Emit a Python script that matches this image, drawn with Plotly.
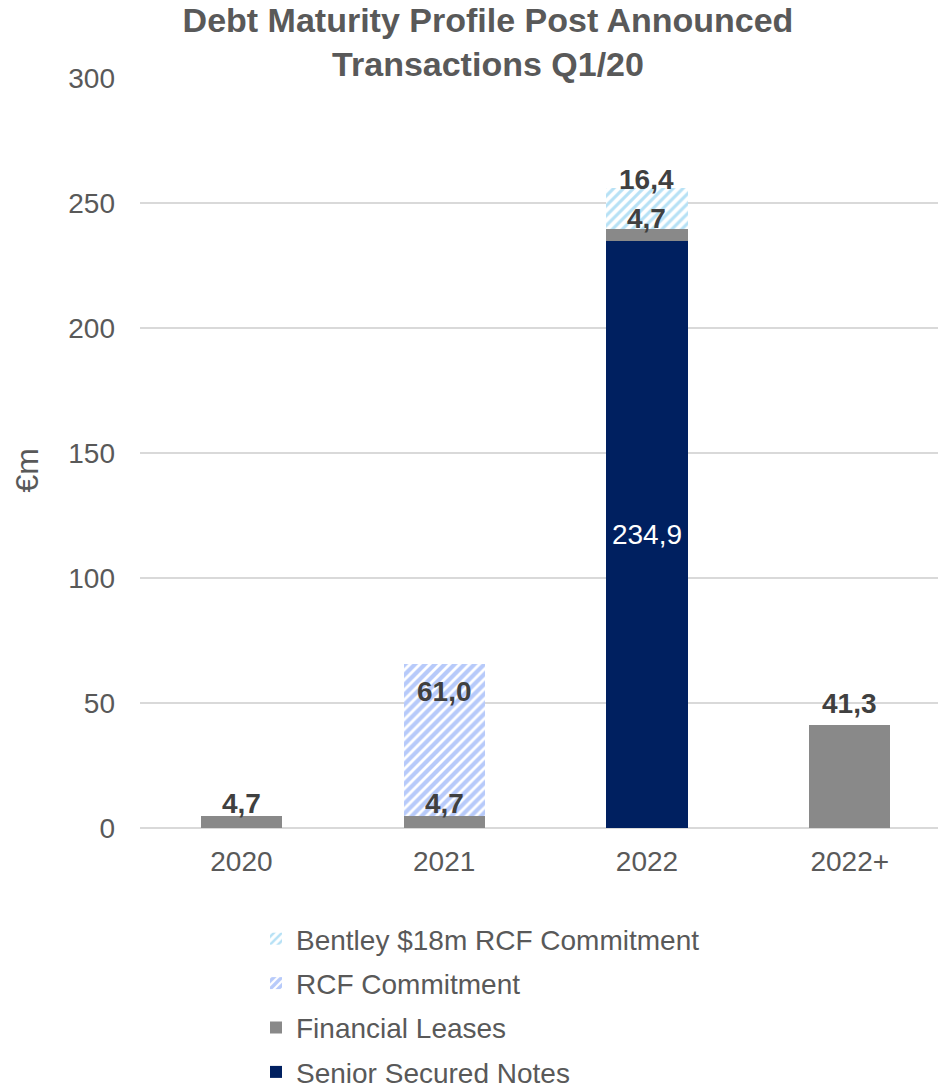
import plotly.graph_objects as go

# Maturity buckets and debt amounts (EUR m), stacked bottom-to-top
categories = ["2020", "2021", "2022", "2022+"]
senior_secured_notes = [None, None, 234.9, None]
financial_leases = [4.7, 4.7, 4.7, 41.3]
rcf_commitment = [None, 61.0, None, None]
bentley_rcf = [None, None, 16.4, None]

y_ticks = [0, 50, 100, 150, 200, 250, 300]

FONT = "Liberation Sans, Arial, sans-serif"
TEXT_GREY = "#595959"
LABEL_GREY = "#404040"
NAVY = "#002060"
BAR_GREY = "#898989"

W, H = 938, 1090
M_L, M_R, M_T, M_B = 140, 0, 78, 262
PLOT_W, PLOT_H = W - M_L - M_R, H - M_T - M_B


def fmt(v):
    return f"{v:.1f}".replace(".", ",")


fig = go.Figure()

fig.add_trace(go.Bar(
    x=categories, y=senior_secured_notes, name="Senior Secured Notes",
    legendgroup="ssn", legendrank=4,
    marker=dict(color=NAVY, line=dict(width=0)),
    text=[fmt(v) if v else "" for v in senior_secured_notes],
    textposition="inside", insidetextanchor="middle",
    textfont=dict(color="white", size=28, family=FONT),
    hoverinfo="skip",
))
fig.add_trace(go.Bar(
    x=categories, y=financial_leases, name="Financial Leases",
    legendgroup="fl", legendrank=3,
    marker=dict(color=BAR_GREY, line=dict(width=0)),
    hoverinfo="skip",
))
fig.add_trace(go.Bar(
    x=categories, y=rcf_commitment, name="RCF Commitment",
    legendgroup="rcf", legendrank=2,
    marker=dict(color="white", line=dict(width=0),
                pattern=dict(shape="/", fgcolor="#6F95F5", bgcolor="white",
                             size=7, solidity=0.6)),
    hoverinfo="skip",
))
fig.add_trace(go.Bar(
    x=categories, y=bentley_rcf, name="Bentley $18m RCF Commitment",
    legendgroup="bentley", legendrank=1,
    marker=dict(color="white", line=dict(width=0),
                pattern=dict(shape="/", fgcolor="#6EC3EC", bgcolor="white",
                             size=7, solidity=0.45)),
    hoverinfo="skip",
))

# Value labels: leases and Bentley sit above their segment, RCF just inside its top.
# Positions use category indices (0..3) so numeric-looking names stay categorical.
annotations = []
label_font = dict(family=FONT, size=28, color=LABEL_GREY, weight="bold")
for i, cat in enumerate(categories):
    base = senior_secured_notes[i] or 0
    fl = financial_leases[i] or 0
    top_fl = base + fl
    if fl:
        lift = 4 if fl > 20 else (-7 if base else -5)
        annotations.append(dict(x=i, y=top_fl, text=fmt(fl), showarrow=False,
                                yanchor="bottom", yshift=lift, font=label_font))
    if rcf_commitment[i]:
        top = top_fl + rcf_commitment[i]
        annotations.append(dict(x=i, y=top, text=fmt(rcf_commitment[i]),
                                showarrow=False, yanchor="top", yshift=-10,
                                font=label_font))
    if bentley_rcf[i]:
        top = top_fl + bentley_rcf[i]
        annotations.append(dict(x=i, y=top, text=fmt(bentley_rcf[i]),
                                showarrow=False, yanchor="bottom", yshift=-9,
                                font=label_font))

# Rotated unit label on the left of the value axis
annotations.append(dict(
    text="€m", textangle=-90, showarrow=False,
    xref="paper", x=-(M_L - 26) / PLOT_W, xanchor="center",
    yref="y", y=143, yanchor="middle",
    font=dict(family=FONT, size=32, color=TEXT_GREY),
))

fig.update_layout(
    width=W, height=H,
    margin=dict(l=M_L, r=M_R, t=M_T, b=M_B, autoexpand=False),
    paper_bgcolor="white", plot_bgcolor="white",
    barmode="stack", bargap=0.6,
    font=dict(family=FONT, color=TEXT_GREY, size=28),
    title=dict(
        text="Debt Maturity Profile Post Announced<br>Transactions Q1/20",
        x=488 / W, xanchor="center", xref="container",
        y=1 - 32 / H, yanchor="top", yref="container",
        font=dict(family=FONT, size=34, color=TEXT_GREY, weight="bold"),
    ),
    xaxis=dict(
        type="category", range=[-0.5, 3.435], showgrid=False, showline=False,
        zeroline=False, automargin=False, tickangle=0,
        ticks="", tickfont=dict(size=28, color=TEXT_GREY),
        ticklabelstandoff=14,
    ),
    yaxis=dict(
        range=[0, 300], tickvals=y_ticks, showgrid=True, gridcolor="#D9D9D9",
        gridwidth=2, zeroline=True, zerolinecolor="#D9D9D9", zerolinewidth=2,
        showline=False, automargin=False,
        ticks="", tickfont=dict(size=28, color=TEXT_GREY),
        ticklabelstandoff=24,
    ),
    legend=dict(
        orientation="v", x=(256 - M_L) / PLOT_W, xanchor="left",
        y=-(914 - M_T - PLOT_H) / PLOT_H, yanchor="top",
        traceorder="grouped", tracegroupgap=5,
        font=dict(size=28, color=TEXT_GREY), bgcolor="rgba(0,0,0,0)",
    ),
    annotations=annotations,
    showlegend=True,
)

fig.write_html("out.html")
